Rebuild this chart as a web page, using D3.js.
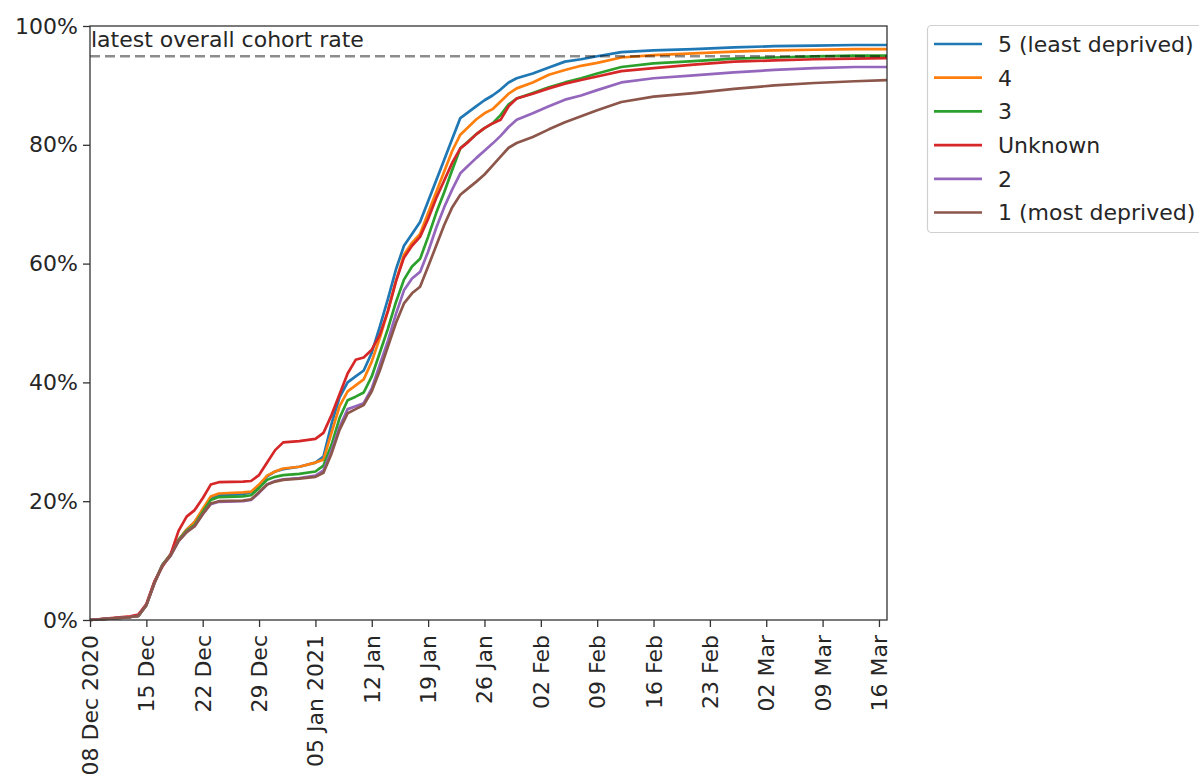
<!DOCTYPE html>
<html>
<head>
<meta charset="utf-8">
<script src="https://cdn.jsdelivr.net/npm/d3@7"></script>
<style>
  html, body { margin: 0; padding: 0; background: #fff; }
  svg { display: block; font-family: "DejaVu Sans", sans-serif; }
</style>
</head>
<body>
<svg id="chart" width="1199" height="776"></svg>
<script>
const dates = ["2020-12-08","2020-12-13","2020-12-14","2020-12-15","2020-12-16","2020-12-17","2020-12-18","2020-12-19","2020-12-20","2020-12-21","2020-12-22","2020-12-23","2020-12-24","2020-12-27","2020-12-28","2020-12-29","2020-12-30","2020-12-31","2021-01-01","2021-01-03","2021-01-05","2021-01-06","2021-01-07","2021-01-08","2021-01-09","2021-01-10","2021-01-11","2021-01-12","2021-01-13","2021-01-14","2021-01-15","2021-01-16","2021-01-17","2021-01-18","2021-01-19","2021-01-20","2021-01-21","2021-01-22","2021-01-23","2021-01-24","2021-01-25","2021-01-26","2021-01-27","2021-01-28","2021-01-29","2021-01-30","2021-02-01","2021-02-03","2021-02-05","2021-02-07","2021-02-09","2021-02-12","2021-02-16","2021-02-21","2021-02-26","2021-03-03","2021-03-08","2021-03-13","2021-03-17"];

const seriesNames = ["5 (least deprived)", "4", "3", "Unknown", "2", "1 (most deprived)"];
const seriesColors = ["#1f77b4", "#ff7f0e", "#2ca02c", "#d62728", "#9467bd", "#8c564b"];

const q5 = [0,0.5,0.7,2.5,6.3,9.3,11,13.5,15.2,16.5,18.5,20.5,21,21.2,21.5,22.5,24.2,25,25.4,25.8,26.5,27.5,33,37.5,40,41,42,45,49.4,54,59,63,65,67,70.5,74,77.5,81,84.5,85.5,86.5,87.5,88.3,89.3,90.5,91.2,92,93,94,94.4,94.9,95.6,95.9,96.1,96.4,96.6,96.7,96.8,96.8];
const q4 = [0,0.5,0.7,2.5,6.3,9.3,11,13.5,15.2,16.5,18.7,20.8,21.3,21.5,21.6,22.8,24.3,25,25.5,25.8,26.5,27,31.5,36,38.5,39.5,40.5,43.5,47.5,52,57,61.5,63.5,65,68.5,72,75.5,79,81.7,83,84.3,85.3,86,87.3,88.6,89.5,90.5,91.8,92.6,93.3,93.8,94.7,95.1,95.4,95.7,95.9,96,96.1,96.1];
const q3 = [0,0.5,0.7,2.5,6.3,9.3,11,13.5,15,16,18.2,20.2,20.7,20.8,21,22.2,23.6,24.1,24.4,24.6,25,26,29.5,34,37,37.6,38.3,41,45,49,53.5,57.3,59.5,60.8,64.5,68.5,72,75.8,79.4,80.6,81.8,82.8,83.6,85,86.8,87.8,88.7,89.7,90.5,91.2,92,93.1,93.7,94.1,94.5,94.7,94.9,95,95];
const qUnknown = [0,0.6,0.9,2.7,6.5,9,11,15,17.4,18.5,20.5,22.8,23.2,23.3,23.4,24.4,26.5,28.6,29.9,30.1,30.5,31.5,34.5,38,41.5,43.8,44.2,45.5,48,52,57,61,63,64.5,67.5,71,74,77,79.4,80.5,81.8,82.8,83.6,84.2,86.5,87.8,88.6,89.5,90.3,90.9,91.5,92.4,92.9,93.5,94,94.2,94.4,94.5,94.6];
const q2 = [0,0.5,0.7,2.5,6.2,9.2,10.8,13.3,14.8,15.8,17.8,19.5,19.9,20,20.2,21.4,22.8,23.4,23.7,23.9,24.3,25.2,28.5,32.5,35.5,36,36.5,39,43,47,51.5,55.5,57.5,58.6,62,66,69.5,72.5,75.2,76.5,77.8,79,80.2,81.5,83,84.2,85.3,86.5,87.6,88.3,89.2,90.5,91.2,91.7,92.2,92.6,92.9,93.1,93.1];
const q1 = [0,0.5,0.7,2.5,6.2,9.2,10.8,13.3,14.8,15.8,17.8,19.6,20,20.1,20.3,21.5,22.8,23.3,23.6,23.8,24.1,24.8,28,32,34.8,35.5,36.2,38.5,42,46,50,53.3,55,56.1,59.5,63,66.5,69.5,71.6,72.7,73.8,75,76.5,78,79.5,80.3,81.3,82.6,83.8,84.8,85.8,87.2,88.1,88.7,89.4,90,90.4,90.7,90.9];
const seriesValues = [q5, q4, q3, qUnknown, q2, q1];

const cohortRate = 94.9;
const cohortLabel = "latest overall cohort rate";
const yTicks = [0, 20, 40, 60, 80, 100];
const xTickDates = ["2020-12-08","2020-12-15","2020-12-22","2020-12-29","2021-01-05","2021-01-12","2021-01-19","2021-01-26","2021-02-02","2021-02-09","2021-02-16","2021-02-23","2021-03-02","2021-03-09","2021-03-16"];
const xTickLabels = ["08 Dec 2020","15 Dec","22 Dec","29 Dec","05 Jan 2021","12 Jan","19 Jan","26 Jan","02 Feb","09 Feb","16 Feb","23 Feb","02 Mar","09 Mar","16 Mar"];

(function () {
const parse = d3.utcParse("%Y-%m-%d");
const svg = d3.select("#chart");
const pLeft = 90, pRight = 887, pTop = 26, pBottom = 620;
const fontSize = 22;

const x = d3.scaleUtc().domain([parse(dates[0]), parse(dates[dates.length - 1])]).range([pLeft, pRight]);
const y = d3.scaleLinear().domain([0, 100]).range([pBottom, pTop]);

// lines
const line = d3.line().x(d => x(d.date)).y(d => y(d.v));
seriesValues.forEach((vals, i) => {
  const pts = dates.map((ds, j) => ({ date: parse(ds), v: vals[j] }));
  svg.append("path")
    .datum(pts)
    .attr("d", line)
    .attr("fill", "none")
    .attr("stroke", seriesColors[i])
    .attr("stroke-width", 2.7)
    .attr("stroke-linejoin", "round")
    .attr("stroke-linecap", "butt");
});

// dashed cohort line
svg.append("line")
  .attr("x1", pLeft).attr("x2", pRight)
  .attr("y1", y(cohortRate)).attr("y2", y(cohortRate))
  .attr("stroke", "#000").attr("stroke-opacity", 0.45)
  .attr("stroke-width", 2.6)
  .attr("stroke-dasharray", "10,5");

svg.append("text")
  .attr("x", pLeft + 1).attr("y", 46.5)
  .attr("font-size", fontSize)
  .attr("fill", "#262626")
  .text(cohortLabel);

// axes
const yAxis = d3.axisLeft(y).tickValues(yTicks).tickFormat(d => d + "%").tickSize(7).tickPadding(5);
const gy = svg.append("g").attr("transform", `translate(${pLeft},0)`).call(yAxis);
gy.select(".domain").remove();
gy.selectAll("line").attr("stroke", "#333").attr("stroke-width", 1.3);
gy.selectAll("text").attr("font-size", fontSize).attr("fill", "#262626").attr("font-family", "DejaVu Sans");

const xAxis = d3.axisBottom(x).tickValues(xTickDates.map(parse))
  .tickFormat((d, i) => xTickLabels[i]).tickSize(7).tickPadding(5);
const gx = svg.append("g").attr("transform", `translate(0,${pBottom})`).call(xAxis);
gx.select(".domain").remove();
gx.selectAll("line").attr("stroke", "#333").attr("stroke-width", 1.3);
gx.selectAll("text")
  .attr("font-size", fontSize).attr("fill", "#262626").attr("font-family", "DejaVu Sans")
  .attr("text-anchor", "end")
  .attr("dy", null)
  .attr("y", 0)
  .attr("transform", "translate(0,15) rotate(-90)")
  .attr("x", 0)
  .attr("dx", 0)
  .attr("dominant-baseline", "central");

// frame
svg.append("rect")
  .attr("x", pLeft).attr("y", pTop)
  .attr("width", pRight - pLeft).attr("height", pBottom - pTop)
  .attr("fill", "none").attr("stroke", "#333").attr("stroke-width", 1.3);

// legend
const lg = svg.append("g");
lg.append("rect")
  .attr("x", 927.5).attr("y", 25.5).attr("width", 290).attr("height", 207)
  .attr("rx", 4).attr("fill", "#fff").attr("stroke", "#d0d0d0").attr("stroke-width", 1.2);
seriesNames.forEach((name, i) => {
  const yy = 44 + i * 33.7;
  lg.append("line").attr("x1", 934).attr("x2", 982).attr("y1", yy).attr("y2", yy)
    .attr("stroke", seriesColors[i]).attr("stroke-width", 2.7);
  lg.append("text").attr("x", 998).attr("y", yy).attr("dy", "0.36em")
    .attr("font-size", fontSize).attr("fill", "#262626").text(name);
});
})();
</script>
</body>
</html>
